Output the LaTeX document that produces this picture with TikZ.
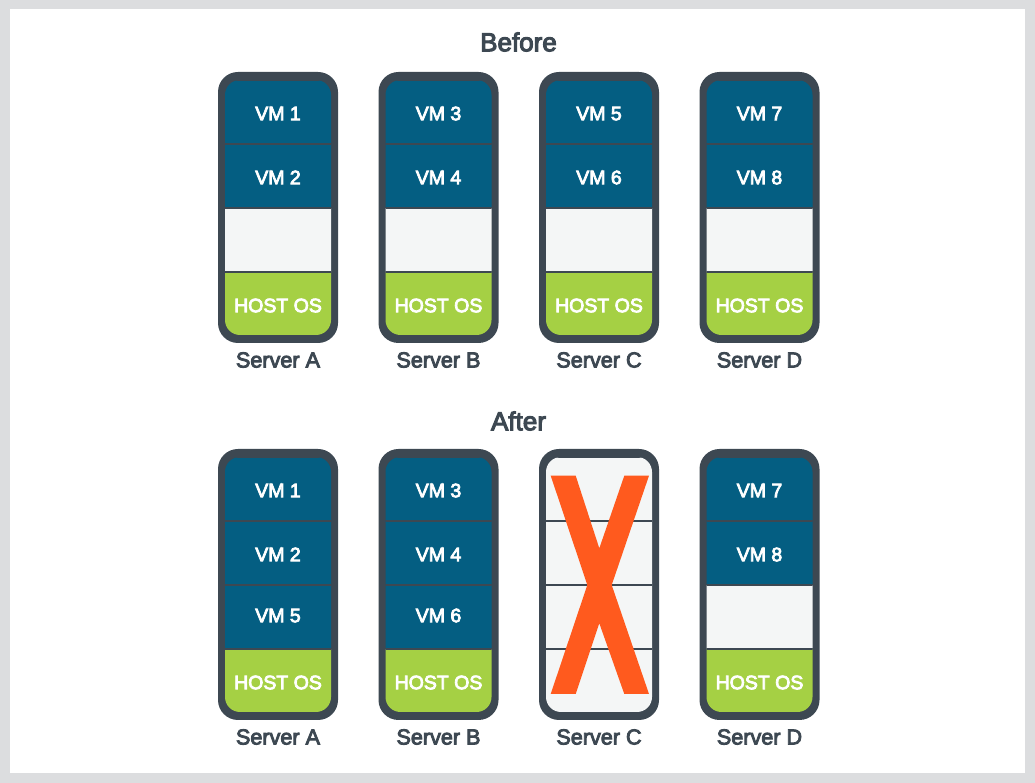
\documentclass[tikz,border=0pt]{standalone}
\usepackage{fontspec}
\setmainfont[FakeBold=4]{Liberation Sans}

\definecolor{framedark}{HTML}{3D4852}
\definecolor{vmblue}{HTML}{045E82}
\definecolor{hostgreen}{HTML}{A5D044}
\definecolor{emptygray}{HTML}{F4F6F6}
\definecolor{crossorange}{HTML}{FF5A1E}
\definecolor{pagegray}{HTML}{DCDDDF}

\tikzset{
  cell/.style={draw=framedark,line width=0.035cm,minimum width=2.2cm,minimum height=1.28cm,inner sep=0pt,text height=0.33cm,text depth=0pt,text=white,font=\fontsize{11.1}{12}\selectfont},
  vm/.style={cell,fill=vmblue},
  vmlow/.style={vm,text height=0.21cm},
  hostos/.style={cell,fill=hostgreen},
  free/.style={cell,fill=emptygray},
  serverlabel/.style={text=framedark,font=\fontsize{12.3}{14}\selectfont},
  heading/.style={text=framedark,font=\fontsize{14.8}{16}\selectfont}
}

% one server: name, x, y of top, label, cells from top to bottom
\newcommand{\server}[5]{
  \fill[framedark,rounded corners=0.4cm] (#2-60,#3) rectangle (#2+60,#3+271);
  \begin{scope}
    \clip[rounded corners=0.3cm] (#2-53,#3+8) rectangle (#2+53,#3+263);
    \foreach \kind/\txt [count=\i] in {#5}
      \node[\kind] (#1\i) at (#2,{#3+40+64*(\i-1)}) {\txt};
  \end{scope}
  \node[serverlabel] (#1label) at (#2,#3+288) {#4};
}

\begin{document}
\begin{tikzpicture}[x=0.02cm,y=-0.02cm]
\useasboundingbox (0,0) rectangle (1035,783);
\fill[pagegray] (0,0) rectangle (1035,783);
\fill[white] (10,9) rectangle (1025,773);

\node[heading] (before) at (518.5,42) {Before};
\server{ba}{278}{72}{Server A}{vm/VM 1,vm/VM 2,free/,hostos/HOST OS}
\server{bb}{438.5}{72}{Server B}{vm/VM 3,vm/VM 4,free/,hostos/HOST OS}
\server{bc}{599}{72}{Server C}{vm/VM 5,vm/VM 6,free/,hostos/HOST OS}
\server{bd}{759.5}{72}{Server D}{vm/VM 7,vm/VM 8,free/,hostos/HOST OS}

\node[heading] (after) at (518.5,421) {After};
\server{aa}{278}{449}{Server A}{vm/VM 1,vm/VM 2,vmlow/VM 5,hostos/HOST OS}
\server{ab}{438.5}{449}{Server B}{vm/VM 3,vm/VM 4,vmlow/VM 6,hostos/HOST OS}
\server{ac}{599}{449}{Server C}{free/,free/,free/,free/}
\server{ad}{759.5}{449}{Server D}{vm/VM 7,vm/VM 8,free/,hostos/HOST OS}

% server C is gone
\fill[crossorange] (550.7,475.7) -- (575.7,475.7) -- (599.3,548.3) -- (624.3,475.7) -- (649,475.7) -- (611.7,585)
  -- (649,694) -- (624.3,694) -- (599.3,623.3) -- (575.7,694) -- (550.7,694) -- (587.3,585) -- cycle;
\end{tikzpicture}
\end{document}
